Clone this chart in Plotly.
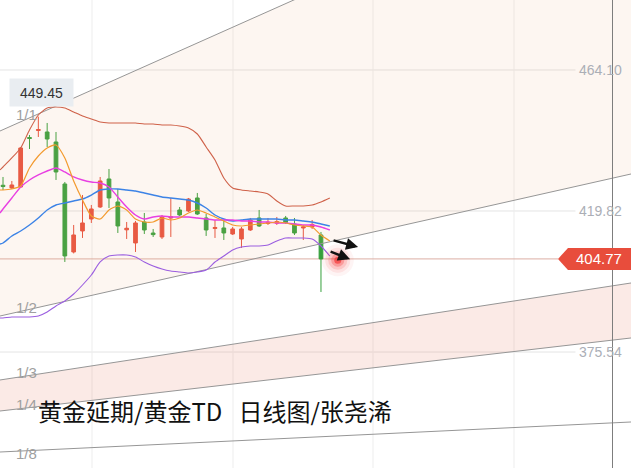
import plotly.graph_objects as go

# ---------------- data ----------------
bar_idx = list(range(37))
opens = [427.9, 427.05, 427.36, 442.9, 445.1, 444.63, 441.49, 428.30, 406.95, 413.55,
         417.31, 421.08, 429.87, 422.65, 413.9, 409.78, 416.37, 412.9, 411.66, 417.6,
         420.14, 419.83, 423.91, 417.63, 414.33, 414.49, 412.60, 411.03, 413.86, 417.63,
         415.9, 416.0, 417.63, 415.74, 414.49, 414.8, 412.29]
highs = [430.5, 429.25, 439.92, 443.69, 449.45, 447.46, 444.63, 428.93, 415.43, 424.85,
         421.71, 430.50, 433.01, 426.73, 416.37, 416.69, 419.20, 414.17, 418.57, 423.91,
         421.08, 423.91, 425.48, 418.88, 416.99, 416.99, 414.80, 414.80, 417.63, 420.14,
         417.63, 417.94, 418.26, 417.63, 415.43, 416.99, 413.23]
lows = [426.4, 426.73, 427.05, 439.29, 443.06, 439.92, 429.56, 403.81, 406.5, 411.35,
        416.06, 420.77, 420.77, 412.92, 411.03, 406.95, 412.60, 411.66, 411.03, 411.66,
        418.26, 419.51, 418.57, 411.98, 411.35, 410.72, 412.29, 408.21, 413.55, 414.80,
        415.43, 415.43, 415.74, 412.29, 410.72, 414.17, 394.39]
closes = [427.5, 427.99, 439.61, 442.6, 445.4, 442.43, 432.07, 405.70, 412.29, 416.06,
          420.45, 429.25, 423.91, 415.12, 414.4, 416.06, 413.86, 412.4, 417.94, 418.0,
          418.57, 423.59, 418.88, 413.86, 414.64, 412.92, 414.17, 414.17, 416.99, 415.12,
          416.3, 416.5, 416.21, 412.92, 414.80, 415.6, 404.77]

line_idx = [-0.34] + list(range(38))
boll_upper = [432.70, 433.64, 436.47, 439.61, 445.26, 449.97, 452.17, 452.48, 452.17, 450.91,
              449.65, 448.71, 447.77, 447.46, 447.46, 447.46, 447.46, 447.14, 447.14, 446.83,
              446.83, 446.51, 445.89, 444.00, 439.92, 435.84, 430.18, 427.04, 426.42, 426.10,
              425.79, 425.16, 422.96, 421.39, 421.39, 421.39, 421.70, 422.65, 423.90]
boll_lower = [386.22, 386.22, 386.53, 386.53, 386.53, 386.85, 388.10, 389.99, 391.56, 393.75,
              396.58, 399.72, 403.81, 405.69, 406.00, 406.00, 405.37, 403.81, 402.55, 401.61,
              400.98, 400.66, 400.35, 400.66, 401.29, 403.81, 405.69, 407.57, 408.51, 408.83,
              408.83, 409.14, 410.40, 411.34, 411.34, 411.34, 411.02, 408.83, 405.69]
boll_mid = [409.45, 409.77, 411.97, 413.54, 415.42, 417.62, 420.13, 421.70, 422.33, 422.96,
            423.59, 424.84, 426.42, 426.73, 426.73, 426.42, 426.10, 425.47, 424.84, 424.21,
            423.90, 423.59, 423.27, 422.33, 420.76, 418.56, 417.31, 416.68, 416.99, 417.31,
            417.31, 417.31, 417.31, 416.99, 416.99, 416.68, 416.36, 415.74, 415.11]
ma_magenta = [419.19, 420.45, 423.90, 427.36, 429.56, 431.13, 432.38, 433.32, 432.07, 430.50,
              429.56, 428.93, 428.61, 427.36, 424.21, 421.08, 418.57, 417.31, 417.94, 418.26,
              417.94, 417.94, 417.94, 417.62, 417.31, 416.99, 416.99, 416.99, 416.68, 416.68,
              416.36, 416.36, 416.05, 416.05, 415.74, 415.42, 415.42, 414.79, 413.85]
ma_orange = [426.42, 426.42, 426.73, 427.67, 433.33, 437.09, 439.61, 440.55, 436.47, 429.24,
             423.27, 418.25, 417.31, 420.13, 421.39, 420.13, 417.31, 416.36, 416.36, 417.62,
             416.99, 417.62, 419.19, 420.13, 419.19, 417.94, 416.68, 415.42, 415.11, 415.42,
             415.74, 416.05, 416.36, 416.05, 415.42, 415.11, 414.79, 412.29, 410.40]

price_ticks = [464.10, 419.82, 375.54]
high_label = 449.45
last_price = closes[-1]

fan_labels = ["1/1", "1/2", "1/3", "1/4", "1/8"]
fan_x = [-0.34, 71.1]
fan_start = [444.94, 386.84, 366.75, 357.01, 344.13]
fan_end = [533.31, 431.44, 397.21, 379.94, 353.56]
fan_label_y = [449.97, 389.67, 369.10, 359.21, 343.82]

title_text = "黄金延期/黄金TD\u00a0\u00a0\u00a0日线图/张尧浠"

X_RANGE = [-0.34, 71.1]
Y_RANGE = [339.11, 486.08]

RED = "#e8503c"
GREEN = "#36a03c"
NUM_FONT = "Liberation Sans, Arial, sans-serif"

fig = go.Figure()

# fan band fills
def band(i, j, color):
    fig.add_trace(go.Scatter(
        x=[fan_x[0], fan_x[1], fan_x[1], fan_x[0]],
        y=[fan_start[i], fan_end[i], fan_end[j], fan_start[j]],
        fill="toself", fillcolor=color, mode="none", hoverinfo="skip"))

band(0, 1, "rgba(240,170,130,0.11)")
band(2, 3, "rgba(235,150,130,0.20)")

# fan lines
for i in range(len(fan_labels)):
    fig.add_trace(go.Scatter(x=fan_x, y=[fan_start[i], fan_end[i]], mode="lines",
                             line=dict(color="#969696", width=1), hoverinfo="skip"))

# candles
fig.add_trace(go.Candlestick(
    x=bar_idx, open=opens, high=highs, low=lows, close=closes,
    increasing=dict(line=dict(color=RED, width=1), fillcolor=RED),
    decreasing=dict(line=dict(color=GREEN, width=1), fillcolor=GREEN),
    whiskerwidth=0, hoverinfo="skip"))

# indicator lines
for vals, col, w in [(boll_upper, "#cf6149", 1.1), (boll_lower, "#9b5ee0", 1.1),
                     (boll_mid, "#3c83e6", 1.4), (ma_magenta, "#e83fe2", 1.4),
                     (ma_orange, "#f39a2e", 1.2)]:
    fig.add_trace(go.Scatter(x=line_idx, y=vals, mode="lines",
                             line=dict(color=col, width=w, shape="spline", smoothing=0.6),
                             hoverinfo="skip"))

# glow at current point
glow_x = bar_idx[-1] + 1.9
for s, a in [(32, 0.05), (25, 0.09), (19, 0.15), (13, 0.27), (7, 0.6)]:
    fig.add_trace(go.Scatter(x=[glow_x], y=[last_price - 0.4], mode="markers",
                             marker=dict(size=s, color="rgba(245,40,40,%s)" % a, line=dict(width=0)),
                             hoverinfo="skip"))

shapes = []
# horizontal grid lines
for p in price_ticks:
    shapes.append(dict(type="line", xref="paper", yref="y", x0=0, x1=0.912, y0=p, y1=p,
                       line=dict(color="#e4e4e4", width=1), layer="below"))
# vertical grid lines
for px in [92, 233, 373, 514]:
    shapes.append(dict(type="line", xref="paper", yref="paper", x0=px / 631, x1=px / 631,
                       y0=0, y1=1, line=dict(color="#ededed", width=1), layer="below"))
# right vertical axis line
shapes.append(dict(type="line", xref="paper", yref="paper", x0=612.5 / 631, x1=612.5 / 631,
                   y0=0, y1=1, line=dict(color="#7d7d7d", width=1), layer="above"))
# current price line
shapes.append(dict(type="line", xref="paper", yref="y", x0=0, x1=558 / 631,
                   y0=last_price, y1=last_price, line=dict(color="#dcaea4", width=1), layer="below"))
# price tag
ytop, ybot = last_price + 3.45, last_price - 3.45
shapes.append(dict(type="path", xref="paper", yref="y",
                   path="M %f,%f L %f,%f L 1,%f L 1,%f L %f,%f Z" % (
                       558 / 631, last_price, 568 / 631, ytop, ytop, ybot, 568 / 631, ybot),
                   fillcolor="#e84d3c", line=dict(width=0), layer="above"))

annotations = []
for p in price_ticks:
    annotations.append(dict(x=624 / 631, xref="paper", y=p, yref="y", text="%.2f" % p,
                            xanchor="right", yanchor="middle", showarrow=False,
                            font=dict(family=NUM_FONT, size=14, color="#abaeb6")))
annotations.append(dict(x=599 / 631, xref="paper", y=last_price, yref="y",
                        text="%.2f" % last_price, xanchor="center", yanchor="middle",
                        showarrow=False, font=dict(family=NUM_FONT, size=15, color="white")))
annotations.append(dict(x=9 / 631, xref="paper", y=457.0, yref="y", text="%.2f" % high_label,
                        xanchor="left", yanchor="middle", showarrow=False, width=61, height=25,
                        bgcolor="#e9edf1", align="center",
                        font=dict(family=NUM_FONT, size=14, color="#333333")))
for lab, y in zip(fan_labels, fan_label_y):
    annotations.append(dict(x=14 / 631, xref="paper", y=y, yref="y", text=lab,
                            xanchor="left", yanchor="middle", showarrow=False,
                            font=dict(family=NUM_FONT, size=15, color="#a0a0a0")))
annotations.append(dict(x=36 / 631, xref="paper", y=1 - 410 / 468, yref="paper", text=title_text,
                        xanchor="left", yanchor="middle", showarrow=False,
                        font=dict(family="Noto Sans CJK SC", size=24, color="#111111")))
# arrows
for hx, hy, ax, ay in [(40.2, 408.5, -26, -7), (39.3, 404.7, -21, -8)]:
    annotations.append(dict(x=hx, y=hy, xref="x", yref="y", ax=ax, ay=ay, text="",
                            showarrow=True, arrowhead=2, arrowsize=1.0, arrowwidth=2.4,
                            arrowcolor="#111111"))

fig.update_layout(
    width=631, height=468, margin=dict(l=0, r=0, t=0, b=0),
    paper_bgcolor="white", plot_bgcolor="white", showlegend=False,
    boxgap=0.4,
    xaxis=dict(range=X_RANGE, visible=False, rangeslider=dict(visible=False), fixedrange=True),
    yaxis=dict(range=Y_RANGE, visible=False, fixedrange=True),
    shapes=shapes, annotations=annotations,
)

fig.write_html("out.html", config={"displayModeBar": False},
               post_script="document.body.style.margin='0';document.body.style.overflow='hidden';")
